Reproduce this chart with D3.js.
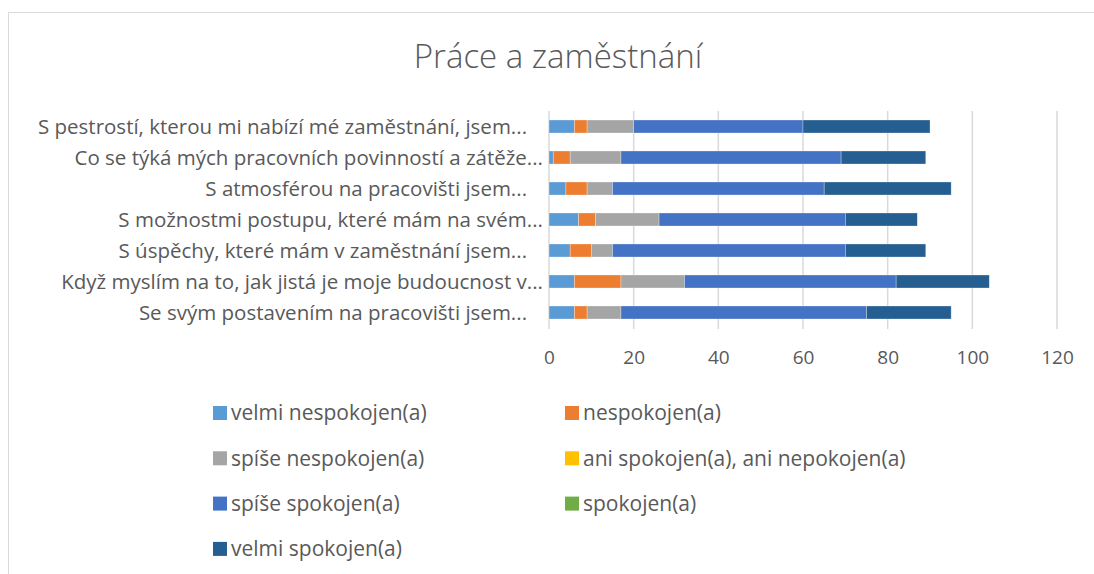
<!DOCTYPE html>
<html>
<head>
<meta charset="utf-8">
<script src="https://cdn.jsdelivr.net/npm/d3@7"></script>
<style>
  body { margin: 0; background: #fff; }
  text { font-family: "Open Sans", "Noto Sans", sans-serif; fill: #595959; }
</style>
</head>
<body>
<script>
// categories, top to bottom as shown
var categories = [
    "S pestrostí, kterou mi nabízí mé zaměstnání, jsem...\u00a0\u00a0\u00a0",
    "Co se týká mých pracovních povinností a zátěže...",
    "S atmosférou na pracovišti jsem...\u00a0\u00a0\u00a0",
    "S možnostmi postupu, které mám na svém...",
    "S úspěchy, které mám v zaměstnání jsem...\u00a0\u00a0\u00a0",
    "Když myslím na to, jak jistá je moje budoucnost v...",
    "Se svým postavením na pracovišti jsem...\u00a0\u00a0\u00a0"
];

var seriesNames = [
    "velmi nespokojen(a)", "nespokojen(a)", "spíše nespokojen(a)",
    "ani spokojen(a), ani nepokojen(a)", "spíše spokojen(a)", "spokojen(a)",
    "velmi spokojen(a)"
];
var seriesColors = ["#5b9bd5", "#ed7d31", "#a5a5a5", "#ffc000", "#4472c4", "#70ad47", "#255e91"];

// values per series, one per category (top to bottom)
var velmiNespokojen = [6, 1, 4, 7, 5, 6, 6];
var nespokojen      = [3, 4, 5, 4, 5, 11, 3];
var spiseNespokojen = [11, 12, 6, 15, 5, 15, 8];
var aniAni          = [0, 0, 0, 0, 0, 0, 0];
var spiseSpokojen   = [40, 52, 50, 44, 55, 50, 58];
var spokojen        = [0, 0, 0, 0, 0, 0, 0];
var velmiSpokojen   = [30, 20, 30, 17, 19, 22, 20];

var xTicks = [0, 20, 40, 60, 80, 100, 120];

var series = [velmiNespokojen, nespokojen, spiseNespokojen, aniAni, spiseSpokojen, spokojen, velmiSpokojen];

var rows = categories.map(function (c, i) {
    var r = { cat: c };
    seriesNames.forEach(function (s, j) { r[s] = series[j][i]; });
    return r;
});

var W = 1094, H = 574;
var svg = d3.select('body').append('svg')
    .attr('width', W)
    .attr('height', H);

// chart border
svg.append('rect')
    .attr('x', 8.5).attr('y', 12.5)
    .attr('width', 1100).attr('height', 580)
    .attr('fill', 'none')
    .attr('stroke', '#d9d9d9');

svg.append('text')
    .attr('x', 558).attr('y', 68)
    .attr('text-anchor', 'middle')
    .style('font-size', '33px')
    .style('font-weight', 300)
    .text('Práce a zaměstnání');

var x = d3.scaleLinear().domain([0, 120]).range([549, 1057]);
var y = d3.scaleBand().domain(categories).range([111, 328]).paddingInner(0.58).paddingOuter(0.29);

// gridlines
svg.append('g').selectAll('line')
    .data(xTicks)
    .enter()
    .append('line')
    .attr('x1', function (d) { return x(d); })
    .attr('x2', function (d) { return x(d); })
    .attr('y1', 111).attr('y2', 329)
    .attr('stroke', '#d9d9d9')
    .attr('stroke-width', 1.5);

var stack = d3.stack().keys(seriesNames)(rows);

svg.append('g').selectAll('g')
    .data(stack)
    .enter()
    .append('g')
    .attr('fill', function (d, i) { return seriesColors[i]; })
    .selectAll('rect')
    .data(function (d) { return d; })
    .enter()
    .append('rect')
    .attr('x', function (d) { return x(d[0]); })
    .attr('y', function (d) { return y(d.data.cat); })
    .attr('width', function (d) { return x(d[1]) - x(d[0]); })
    .attr('height', y.bandwidth())
    .attr('stroke', '#fff')
    .attr('stroke-opacity', 0.5)
    .attr('stroke-width', 0.6);

// category labels
svg.append('g').selectAll('text')
    .data(categories)
    .enter()
    .append('text')
    .attr('x', 543)
    .attr('y', function (d) { return y(d) + y.bandwidth() / 2; })
    .attr('dy', '0.35em')
    .attr('text-anchor', 'end')
    .style('font-size', '20.5px')
    .style('white-space', 'pre')
    .text(function (d) { return d; });

// x axis labels
var xAxis = d3.axisBottom(x).tickValues(xTicks).tickSize(0).tickPadding(0);
var gx = svg.append('g').attr('transform', 'translate(0,' + 350 + ')').call(xAxis);
gx.select('.domain').remove();
gx.selectAll('text')
    .attr('dy', '0.71em')
    .style('font-size', '19px')
    .style('font-family', '"Open Sans", "Noto Sans", sans-serif')
    .attr('fill', '#595959');

// legend, two columns
var legend = svg.append('g').selectAll('g')
    .data(seriesNames)
    .enter()
    .append('g')
    .attr('transform', function (d, i) {
        return 'translate(' + (i % 2 === 0 ? 213 : 565) + ',' + (413 + Math.floor(i / 2) * 45.3) + ')';
    });
legend.append('rect')
    .attr('x', 0).attr('y', -7)
    .attr('width', 14).attr('height', 14)
    .attr('fill', function (d, i) { return seriesColors[i]; });
legend.append('text')
    .attr('x', 18).attr('y', 0)
    .attr('dy', '0.35em')
    .style('font-size', '21px')
    .text(function (d) { return d; });
</script>
</body>
</html>
